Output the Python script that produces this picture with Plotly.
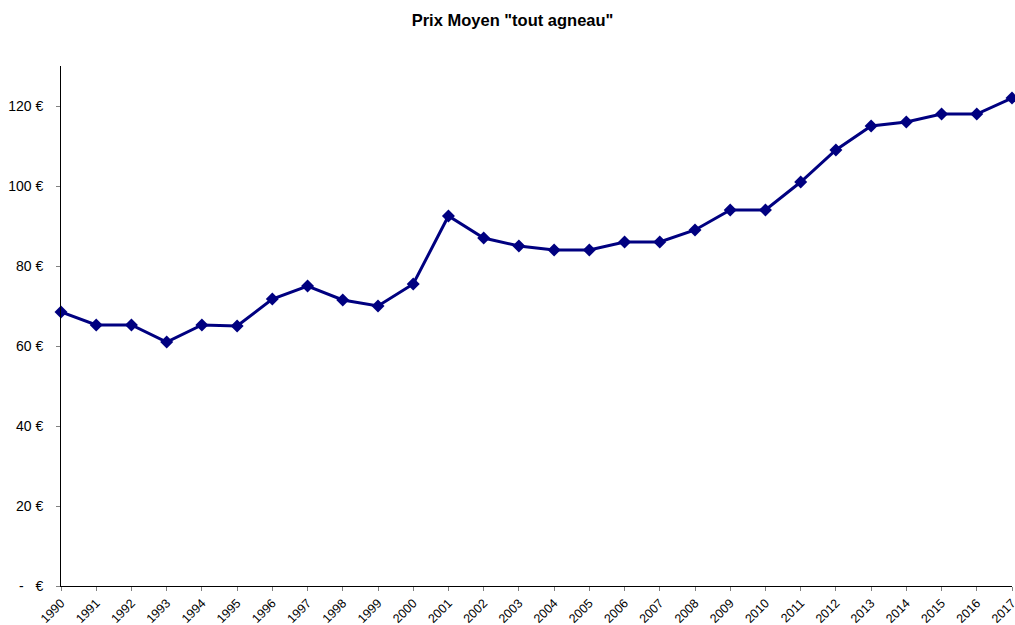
import plotly.graph_objects as go

years = list(range(1990, 2018))
prices = [68.5, 65.25, 65.25, 61, 65.25, 65, 71.75, 75, 71.5, 70, 75.5, 92.5, 87, 85,
          84, 84, 86, 86, 89, 94, 94, 101, 109, 115, 116, 118, 118, 122]
ytick_vals = [0, 20, 40, 60, 80, 100, 120]
ytick_text = ["-   €", "20 €", "40 €", "60 €", "80 €", "100 €", "120 €"]

fig = go.Figure()
fig.add_trace(go.Scatter(
    x=years, y=prices, mode="lines+markers",
    line=dict(color="#000080", width=3),
    marker=dict(symbol="diamond", size=10, color="#000080"),
    cliponaxis=False, showlegend=False,
))
fig.update_layout(
    width=1015, height=625,
    paper_bgcolor="white", plot_bgcolor="white",
    margin=dict(l=61, r=3, t=66, b=39),
    font=dict(family="Liberation Sans, Arial, sans-serif", size=14, color="black"),
    title=dict(text='<b>Prix Moyen "tout agneau"</b>', x=0.505, xanchor="center",
               yref="container", y=1 - 20 / 625, yanchor="middle", font=dict(size=16.5)),
)
fig.update_xaxes(
    range=[1990, 2017], tickmode="array", tickvals=years,
    ticktext=[str(y) for y in years], automargin=False,
    ticklabeloverflow="allow",
    tickangle=-45, ticks="outside", ticklen=4, tickcolor="#808080",
    tickfont=dict(size=12.5),
    showline=True, linecolor="black", linewidth=1, showgrid=False, zeroline=False,
)
fig.update_yaxes(
    range=[0, 130], tickmode="array", tickvals=ytick_vals, ticktext=ytick_text,
    automargin=False,
    ticks="outside", ticklen=4, tickcolor="#808080", ticklabelstandoff=10,
    showline=True, linecolor="black", linewidth=1, showgrid=False, zeroline=False,
)
fig.write_html("out.html", config={"displayModeBar": False},
               post_script="document.body.style.margin='0';document.body.style.overflow='hidden';")
